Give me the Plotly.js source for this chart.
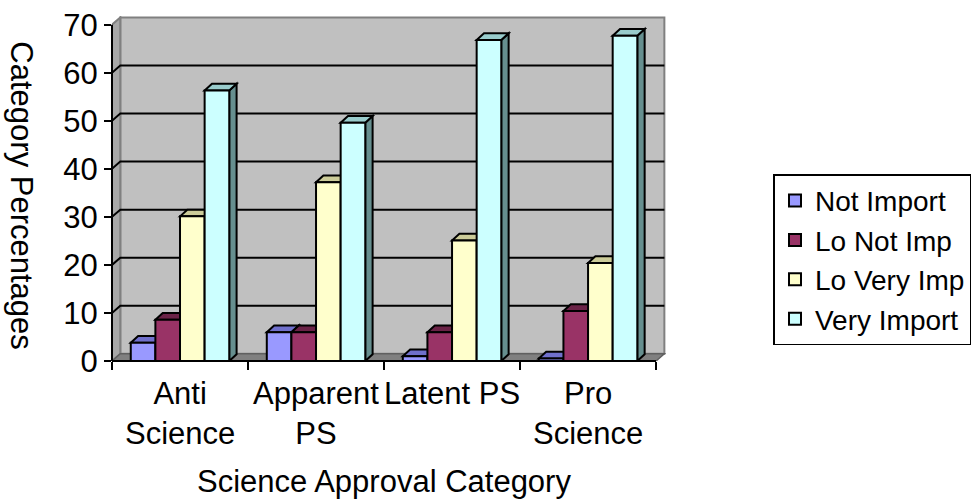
<!DOCTYPE html>
<html>
<head>
<meta charset="utf-8">
<script src="https://cdn.plot.ly/plotly-3.0.1.min.js"></script>
<style>
  html, body { margin: 0; padding: 0; background: #ffffff; }
  #chart { width: 974px; height: 502px; }
</style>
</head>
<body>
<div id="chart"></div>
<script>
// Category labels along the x axis
const categories = ["Anti<br>Science", "Apparent<br>PS", "Latent PS", "Pro<br>Science"];

// Series values (percent of each approval category)
const seriesNames = ["Not Import", "Lo Not Imp", "Lo Very Imp", "Very Import"];
const notImport   = [3.8, 6.0, 1.0, 0.5];
const loNotImp    = [8.6, 6.0, 6.0, 10.4];
const loVeryImp   = [30.1, 37.2, 25.1, 20.4];
const veryImport  = [56.3, 49.6, 66.8, 67.7];

const yTicks = [0, 10, 20, 30, 40, 50, 60, 70];

// Face colours: front, top, side
const frontColors = ["#9999FF", "#993366", "#FFFFCC", "#CCFFFF"];
const topColors   = ["#7070CC", "#6B2347", "#CCCC99", "#99CCCC"];
const sideColors  = ["#5A5AA8", "#5E1F3E", "#A3A37A", "#668F8F"];

const seriesValues = [notImport, loNotImp, loVeryImp, veryImport];

// Depth of the 3-D box (walls) and of each bar, in axis units
const WALL_DX = 0.061, WALL_DY = 1.5;
const BAR_DX = 0.054, BAR_DY = 1.4;
const BARGAP = 0.276;
const YMAX = 70;

const xIdx = categories.map((_, i) => i);
const nSeries = seriesValues.length;
const barW = (1 - BARGAP) / nSeries;

const traces = seriesValues.map((vals, s) => ({
  type: "bar",
  name: seriesNames[s],
  x: xIdx,
  y: vals,
  marker: { color: frontColors[s], line: { color: "#000000", width: 2 } },
  hoverinfo: "skip"
}));

const shapes = [];
const GRAY = "#808080";

// Back wall
shapes.push({
  type: "rect", xref: "x", yref: "y", layer: "below",
  x0: -0.5 + WALL_DX, x1: 3.5 + WALL_DX, y0: WALL_DY, y1: YMAX + WALL_DY,
  fillcolor: "#C0C0C0", line: { color: GRAY, width: 2 }
});
// Left wall
shapes.push({
  type: "path", xref: "x", yref: "y", layer: "below",
  path: `M${-0.5},0 L${-0.5 + WALL_DX},${WALL_DY} L${-0.5 + WALL_DX},${YMAX + WALL_DY} L${-0.5},${YMAX} Z`,
  fillcolor: "#A8A8A8", line: { color: GRAY, width: 2 }
});
// Floor
shapes.push({
  type: "path", xref: "x", yref: "y", layer: "below",
  path: `M${-0.5},0 L${3.5},0 L${3.5 + WALL_DX},${WALL_DY} L${-0.5 + WALL_DX},${WALL_DY} Z`,
  fillcolor: "#808080", line: { color: "#606060", width: 1.5 }
});
// Gridlines across the left wall and back wall
yTicks.filter(v => v > 0 && v < YMAX).forEach(v => {
  shapes.push({
    type: "path", xref: "x", yref: "y", layer: "below",
    path: `M${-0.5},${v} L${-0.5 + WALL_DX},${v + WALL_DY} L${3.5 + WALL_DX},${v + WALL_DY}`,
    line: { color: "#000000", width: 2 }
  });
});

// Top and side faces of every bar, built from the series values
seriesValues.forEach((vals, s) => {
  vals.forEach((v, i) => {
    const xl = i - (1 - BARGAP) / 2 + s * barW;
    const xr = xl + barW;
    shapes.push({
      type: "path", xref: "x", yref: "y", layer: "below",
      path: `M${xr},0 L${xr + BAR_DX},${BAR_DY} L${xr + BAR_DX},${v + BAR_DY} L${xr},${v} Z`,
      fillcolor: sideColors[s], line: { color: "#000000", width: 2 }
    });
    shapes.push({
      type: "path", xref: "x", yref: "y", layer: "below",
      path: `M${xl},${v} L${xl + BAR_DX},${v + BAR_DY} L${xr + BAR_DX},${v + BAR_DY} L${xr},${v} Z`,
      fillcolor: topColors[s], line: { color: "#000000", width: 2 }
    });
  });
});

// Front axis lines
shapes.push({
  type: "line", xref: "paper", yref: "y", layer: "above",
  x0: 0, x1: 0, y0: 0, y1: YMAX,
  line: { color: "#000000", width: 2 }
});
shapes.push({
  type: "line", xref: "x", yref: "paper", layer: "above",
  x0: -0.5, x1: 3.5, y0: 0, y1: 0,
  line: { color: "#000000", width: 2 }
});

const FONT = "Liberation Sans, Arial, sans-serif";

const annotations = categories.map((c, i) => ({
  text: c, x: i, xref: "x", y: 0, yref: "paper",
  xanchor: "center", yanchor: "top", yshift: -13,
  showarrow: false, align: "center",
  font: { family: FONT, size: 31, color: "#000000" }
}));
annotations.push({
  text: "Science Approval Category", x: 1.5, xref: "x", y: -0.35, yref: "paper",
  xanchor: "center", yanchor: "middle", showarrow: false,
  font: { family: FONT, size: 31, color: "#000000" }
});
annotations.push({
  text: "Category Percentages", x: -0.163, xref: "paper", y: 0.481, yref: "paper",
  xanchor: "center", yanchor: "middle", textangle: 90, showarrow: false,
  font: { family: FONT, size: 31, color: "#000000" }
});

const layout = {
  width: 974, height: 502,
  margin: { l: 112, r: 308, t: 16, b: 141, pad: 0, autoexpand: false },
  paper_bgcolor: "#ffffff", plot_bgcolor: "rgba(0,0,0,0)",
  font: { family: FONT, size: 31, color: "#000000" },
  barmode: "group", bargap: BARGAP, bargroupgap: 0,
  showlegend: true,
  legend: {
    x: 1.194, y: 0.541, xanchor: "left", yanchor: "top",
    bgcolor: "#ffffff", bordercolor: "#000000", borderwidth: 1.5,
    font: { family: FONT, size: 28, color: "#000000" },
    tracegroupgap: 0
  },
  xaxis: {
    type: "linear", range: [-0.5, 3.5 + WALL_DX + 0.012],
    tickvals: [-0.5, 0.5, 1.5, 2.5, 3.5], ticktext: ["", "", "", "", ""],
    ticks: "outside", ticklen: 8, tickwidth: 2, tickcolor: "#000000",
    showticklabels: false, showgrid: false, zeroline: false, showline: false,
    fixedrange: true
  },
  yaxis: {
    range: [0, YMAX + WALL_DY + 0.3],
    tickvals: yTicks,
    ticks: "outside", ticklen: 7, tickwidth: 2, tickcolor: "#000000",
    tickfont: { family: FONT, size: 31, color: "#000000" },
    showgrid: false, zeroline: false, showline: false, fixedrange: true
  },
  shapes: shapes,
  annotations: annotations
};

Plotly.newPlot("chart", traces, layout, { staticPlot: true, displayModeBar: false });
</script>
</body>
</html>
